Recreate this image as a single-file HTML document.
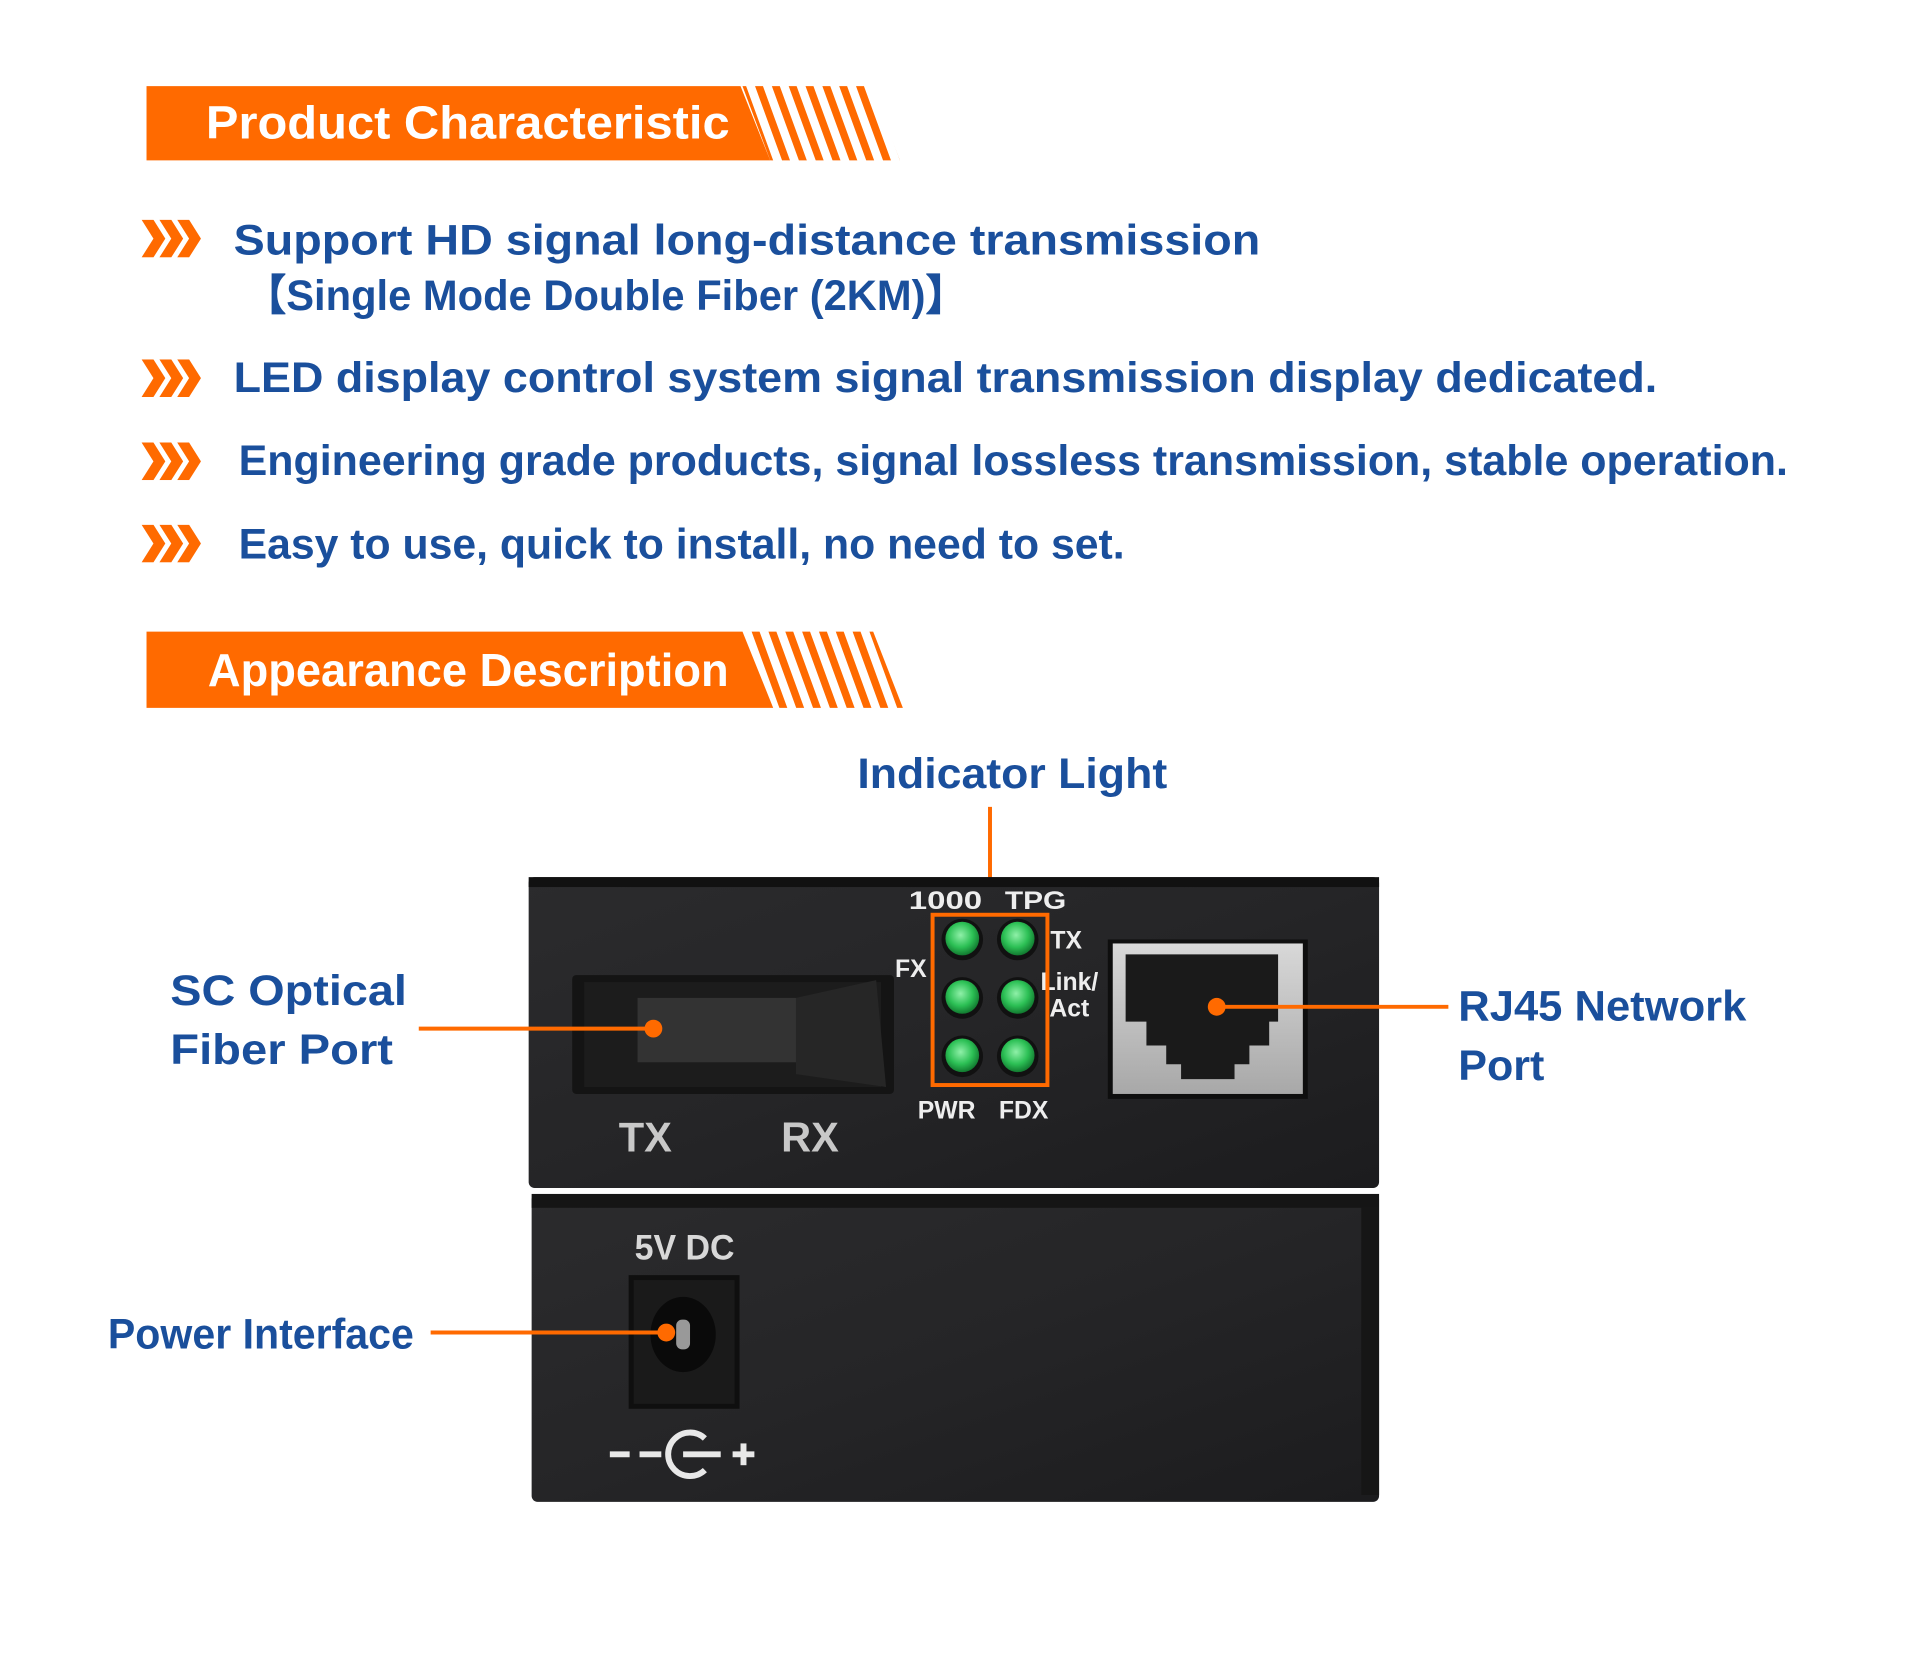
<!DOCTYPE html>
<html><head><meta charset="utf-8"><style>html,body{margin:0;padding:0;background:#fff}svg{display:block}</style></head>
<body>
<svg width="1920" height="1663" viewBox="0 0 1920 1663" xmlns="http://www.w3.org/2000/svg" font-family="'Liberation Sans', Arial, sans-serif" font-weight="bold">
<defs>
<symbol id="chev" viewBox="0 0 60 38">
<path d="M0 0 h12 l12 19 l-12 19 h-12 l12 -19z M18 0 h12 l12 19 l-12 19 h-12 l12 -19z M36 0 h12 l12 19 l-12 19 h-12 l12 -19z" fill="#ff6a00"/>
</symbol>
<pattern id="stripes" width="17" height="80" patternUnits="userSpaceOnUse" patternTransform="skewX(20)">
<rect x="0" y="0" width="8" height="80" fill="#ff6a00"/>
</pattern>
<linearGradient id="box" x1="0" y1="0" x2="1" y2="1"><stop offset="0" stop-color="#2b2b2d"/><stop offset="0.5" stop-color="#252527"/><stop offset="1" stop-color="#1c1c1e"/></linearGradient>
<radialGradient id="led" cx="0.45" cy="0.4" r="0.6"><stop offset="0" stop-color="#8ff0a8"/><stop offset="0.6" stop-color="#2cc055"/><stop offset="1" stop-color="#127a30"/></radialGradient>
<linearGradient id="silver" x1="0" y1="0" x2="0" y2="1"><stop offset="0" stop-color="#d8d8d8"/><stop offset="1" stop-color="#a8a8a8"/></linearGradient>
</defs>
<g transform="scale(0.99)">
<!-- Header 1 -->
<polygon points="148,87 748,87 778,162 148,162" fill="#ff6a00"/>
<polygon points="750,87 880,87 909,162 778,162" fill="url(#stripes)"/>
<text x="208" y="140" font-size="47" fill="#fff" textLength="529" lengthAdjust="spacingAndGlyphs">Product Characteristic</text>

<!-- bullets -->
<use href="#chev" x="143" y="222" width="60" height="38"/>
<text x="236" y="257" font-size="43" fill="#1a4f9c" textLength="1037" lengthAdjust="spacingAndGlyphs">Support HD signal long-distance transmission</text>
<text x="247" y="313" font-size="43" fill="#1a4f9c" textLength="730" lengthAdjust="spacingAndGlyphs">【Single Mode Double Fiber (2KM)】</text>
<use href="#chev" x="143" y="363" width="60" height="38"/>
<text x="236" y="396" font-size="43" fill="#1a4f9c" textLength="1438" lengthAdjust="spacingAndGlyphs">LED display control system signal transmission display dedicated.</text>
<use href="#chev" x="143" y="447" width="60" height="38"/>
<text x="241" y="480" font-size="43" fill="#1a4f9c" textLength="1565" lengthAdjust="spacingAndGlyphs">Engineering grade products, signal lossless transmission, stable operation.</text>
<use href="#chev" x="143" y="530" width="60" height="38"/>
<text x="241" y="564" font-size="43" fill="#1a4f9c" textLength="895" lengthAdjust="spacingAndGlyphs">Easy to use, quick to install, no need to set.</text>

<!-- Header 2 -->
<polygon points="148,638 750,638 781,715 148,715" fill="#ff6a00"/>
<polygon points="752,638 882,638 912,715 781,715" fill="url(#stripes)"/>
<text x="210" y="693" font-size="47" fill="#fff" textLength="526" lengthAdjust="spacingAndGlyphs">Appearance Description</text>

<!-- Indicator label -->
<text x="866" y="796" font-size="43" fill="#1a4f9c" textLength="313" lengthAdjust="spacingAndGlyphs">Indicator Light</text>
<line x1="1000" y1="815" x2="1000" y2="923" stroke="#ff6a00" stroke-width="4"/>

<!-- top box -->
<rect x="534" y="886" width="859" height="314" rx="6" fill="url(#box)"/>
<rect x="534" y="886" width="859" height="10" fill="#111"/>
<!-- SC port -->
<rect x="578" y="985" width="325" height="120" rx="4" fill="#141414"/>
<rect x="590" y="992" width="300" height="106" fill="#1c1c1c"/>
<polygon points="804,1008 885,990 895,1098 804,1085" fill="#262626"/>
<rect x="644" y="1008" width="160" height="65" fill="#333"/>
<text x="625" y="1163" font-size="42" fill="#c8c8c8">TX</text>
<text x="789" y="1163" font-size="42" fill="#c8c8c8">RX</text>
<line x1="423" y1="1039" x2="659" y2="1039" stroke="#ff6a00" stroke-width="4"/>
<circle cx="660" cy="1039" r="9" fill="#ff6a00"/>
<text x="172" y="1015" font-size="43" fill="#1a4f9c" textLength="239" lengthAdjust="spacingAndGlyphs">SC Optical</text>
<text x="172" y="1075" font-size="43" fill="#1a4f9c" textLength="225" lengthAdjust="spacingAndGlyphs">Fiber Port</text>

<!-- LEDs -->
<g font-size="25" fill="#eee">
<text x="918" y="918" textLength="74" lengthAdjust="spacingAndGlyphs">1000</text>
<text x="1015" y="918" textLength="62" lengthAdjust="spacingAndGlyphs">TPG</text>
<text x="1061" y="958">TX</text>
<text x="904" y="987">FX</text>
<text x="1051" y="1000">Link/</text>
<text x="1060" y="1027">Act</text>
<text x="927" y="1130">PWR</text>
<text x="1009" y="1130">FDX</text>
</g>
<g>
<circle cx="972" cy="949" r="21" fill="#111"/><circle cx="972" cy="948" r="17" fill="url(#led)"/>
<circle cx="1028" cy="949" r="21" fill="#111"/><circle cx="1028" cy="948" r="17" fill="url(#led)"/>
<circle cx="972" cy="1008" r="21" fill="#111"/><circle cx="972" cy="1007" r="17" fill="url(#led)"/>
<circle cx="1028" cy="1008" r="21" fill="#111"/><circle cx="1028" cy="1007" r="17" fill="url(#led)"/>
<circle cx="972" cy="1067" r="21" fill="#111"/><circle cx="972" cy="1066" r="17" fill="url(#led)"/>
<circle cx="1028" cy="1067" r="21" fill="#111"/><circle cx="1028" cy="1066" r="17" fill="url(#led)"/>
</g>
<rect x="942" y="924" width="116" height="172" fill="none" stroke="#ff6a00" stroke-width="4"/>

<!-- RJ45 -->
<rect x="1119" y="949" width="202" height="161" fill="#0e0e0e"/>
<rect x="1124" y="953" width="192" height="152" fill="url(#silver)"/>
<path d="M1137 964 H1291 V1032 H1282 V1056 H1262 V1075 H1247 V1090 H1193 V1075 H1178 V1056 H1158 V1032 H1137 Z" fill="#1a1a1a"/>
<line x1="1228" y1="1017" x2="1463" y2="1017" stroke="#ff6a00" stroke-width="4"/>
<circle cx="1229" cy="1017" r="9" fill="#ff6a00"/>
<text x="1473" y="1031" font-size="43" fill="#1a4f9c" textLength="291" lengthAdjust="spacingAndGlyphs">RJ45 Network</text>
<text x="1473" y="1091" font-size="43" fill="#1a4f9c" textLength="87" lengthAdjust="spacingAndGlyphs">Port</text>

<!-- bottom box -->
<rect x="537" y="1206" width="856" height="311" rx="6" fill="url(#box)"/>
<rect x="537" y="1206" width="856" height="14" fill="#151515"/>
<rect x="1375" y="1220" width="18" height="290" fill="#161616"/>
<text x="641" y="1272" font-size="36" fill="#d8d8d8" textLength="101" lengthAdjust="spacingAndGlyphs">5V DC</text>
<rect x="635" y="1288" width="112" height="135" fill="#0f0f0f"/>
<rect x="640" y="1293" width="102" height="125" fill="#1a1a1a"/>
<ellipse cx="690" cy="1348" rx="33" ry="38" fill="#0a0a0a"/>
<rect x="683" y="1333" width="14" height="30" rx="6" fill="#999"/>
<line x1="435" y1="1346" x2="672" y2="1346" stroke="#ff6a00" stroke-width="4"/>
<circle cx="673" cy="1346" r="9" fill="#ff6a00"/>
<text x="109" y="1362" font-size="43" fill="#1a4f9c" textLength="309" lengthAdjust="spacingAndGlyphs">Power Interface</text>
<!-- polarity symbol -->
<g stroke="#e8e8e8" stroke-width="6" fill="none">
<line x1="616" y1="1469" x2="636" y2="1469"/>
<line x1="646" y1="1469" x2="668" y2="1469"/>
<path d="M712 1453 A22 22 0 1 0 712 1485"/>
<line x1="690" y1="1469" x2="728" y2="1469"/>
<line x1="740" y1="1469" x2="762" y2="1469"/>
<line x1="751" y1="1458" x2="751" y2="1480"/>
</g>
</g>
</svg>
</body></html>
